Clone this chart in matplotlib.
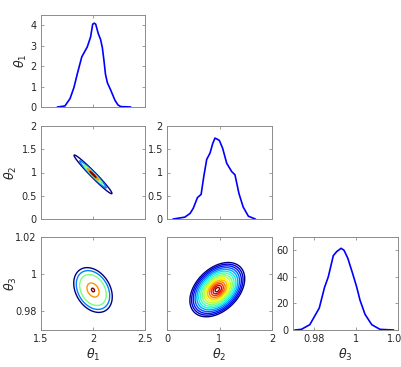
import numpy as np
import matplotlib.pyplot as plt

# marginal densities
t1_x = [1.66, 1.73, 1.78, 1.817, 1.85, 1.892, 1.945, 1.977, 1.997, 2.012, 2.026, 2.05, 2.073, 2.09, 2.105, 2.12, 2.138, 2.17, 2.21, 2.24, 2.267, 2.36]
t1_y = [0.0, 0.05, 0.42, 0.96, 1.64, 2.45, 2.94, 3.43, 4.05, 4.1, 4.05, 3.6, 3.3, 2.9, 2.29, 1.6, 1.19, 0.83, 0.34, 0.1, 0.02, 0.0]

t2_x = [0.12, 0.34, 0.44, 0.50, 0.58, 0.65, 0.70, 0.756, 0.82, 0.87, 0.914, 0.95, 0.997, 1.06, 1.137, 1.232, 1.295, 1.37, 1.45, 1.55, 1.68]
t2_y = [0.0, 0.04, 0.12, 0.23, 0.46, 0.53, 0.91, 1.28, 1.42, 1.62, 1.74, 1.72, 1.69, 1.52, 1.20, 1.02, 0.95, 0.55, 0.26, 0.06, 0.0]

t3_x = [0.971, 0.974, 0.978, 0.9825, 0.985, 0.9868, 0.9892, 0.9908, 0.9929, 0.9943, 0.9961, 0.9984, 1.0003, 1.0019, 1.0043, 1.0075, 1.0114, 1.0178]
t3_y = [0.0, 0.5, 4.0, 16.5, 32.0, 40.0, 56.0, 59.0, 61.5, 60.0, 54.0, 42.5, 32.5, 22.5, 11.8, 4.0, 0.5, 0.0]

# joint densities: means, std devs, correlation, contour radii (in sigma)
mean_12 = [2.0, 0.96]
std_12 = [0.0985, 0.225]
rho_12 = -0.98
rings_12 = [1.85, 1.3, 0.9, 0.55, 0.3]

mean_13 = [2.0, 0.9915]
std_13 = [0.0985, 0.0064]
rho_13 = -0.3
rings_13 = [1.88, 1.63, 1.3, 0.59, 0.15]

mean_23 = [0.958, 0.9917]
std_23 = [0.229, 0.0064]
rho_23 = 0.4
rings_23 = [2.28, 2.14, 2.0, 1.85, 1.7, 1.55, 1.4, 1.25, 1.1, 0.95, 0.8, 0.65, 0.5, 0.35, 0.18]

lims = [(1.5, 2.5), (0, 2), (0.97, 1.02)]
ticks = [[1.5, 2, 2.5], [0, 1, 2], [0.98, 1, 1.02]]
tick_text = [['1.5', '2', '2.5'], ['0', '1', '2'], ['0.98', '1', '1.02']]
names = [r'$\theta_1$', r'$\theta_2$', r'$\theta_3$']

W, H = 402, 367
cols = [(41, 145), (167, 272), (293, 398)]
rows = [(15, 107), (126, 219), (237, 330)]
ylabel_x = [21, 11, 11]  # pixel centre of the row labels

fig = plt.figure(figsize=(W / 100, H / 100), dpi=100)


def make_ax(r, c):
    x0, x1 = cols[c]
    y0, y1 = rows[r]
    ax = fig.add_axes([x0 / W, 1 - y1 / H, (x1 - x0) / W, (y1 - y0) / H])
    for s in ax.spines.values():
        s.set_color('#8c8c8c')
        s.set_linewidth(0.7)
    ax.tick_params(direction='in', top=True, right=True, length=2, width=0.6,
                   color='#8c8c8c', labelsize=7, labelcolor='#262626', pad=3)
    ax.set_xlim(lims[c])
    ax.set_xticks(ticks[c])
    if r == 2:
        ax.set_xticklabels(tick_text[c])
        ax.set_xlabel(names[c], fontsize=9, color='#262626', labelpad=2)
    else:
        ax.set_xticklabels([])
    if c == 0:
        ax.set_ylabel(names[r], fontsize=9, color='#262626', va='center')
        ax.yaxis.set_label_coords((ylabel_x[r] - x0) / (x1 - x0), 0.5)
    return ax


def joint(ax, cx, cy, mean, std, rho, rings):
    X, Y = np.meshgrid(np.linspace(*lims[cx], 400), np.linspace(*lims[cy], 400))
    u = (X - mean[0]) / std[0]
    v = (Y - mean[1]) / std[1]
    q = (u ** 2 - 2 * rho * u * v + v ** 2) / (1 - rho ** 2)
    z = np.exp(-0.5 * q)
    levels = np.exp(-0.5 * np.array(rings) ** 2)
    colors = plt.cm.jet(np.linspace(0, 1, len(rings)))
    ax.contour(X, Y, z, levels=levels, colors=colors, linewidths=1.0)


# diagonal
ax = make_ax(0, 0)
ax.plot(t1_x, t1_y, color='blue', lw=1.2)
ax.set_ylim(0, 4.5)
ax.set_yticks([0, 1, 2, 3, 4])

ax = make_ax(1, 1)
ax.plot(t2_x, t2_y, color='blue', lw=1.2)
ax.set_ylim(0, 2)
ax.set_yticks([0, 0.5, 1, 1.5, 2])
ax.set_yticklabels(['0', '0.5', '1', '1.5', '2'])

ax = make_ax(2, 2)
ax.plot(t3_x, t3_y, color='blue', lw=1.2)
ax.set_ylim(0, 70)
ax.set_yticks([0, 20, 40, 60])

# off-diagonal
ax = make_ax(1, 0)
joint(ax, 0, 1, mean_12, std_12, rho_12, rings_12)
ax.set_ylim(lims[1])
ax.set_yticks([0, 0.5, 1, 1.5, 2])
ax.set_yticklabels(['0', '0.5', '1', '1.5', '2'])

ax = make_ax(2, 0)
joint(ax, 0, 2, mean_13, std_13, rho_13, rings_13)
ax.set_ylim(lims[2])
ax.set_yticks(ticks[2])
ax.set_yticklabels(tick_text[2])

ax = make_ax(2, 1)
joint(ax, 1, 2, mean_23, std_23, rho_23, rings_23)
ax.set_ylim(lims[2])
ax.set_yticks(ticks[2])
ax.set_yticklabels([])

fig.savefig('out.png', dpi=100)
